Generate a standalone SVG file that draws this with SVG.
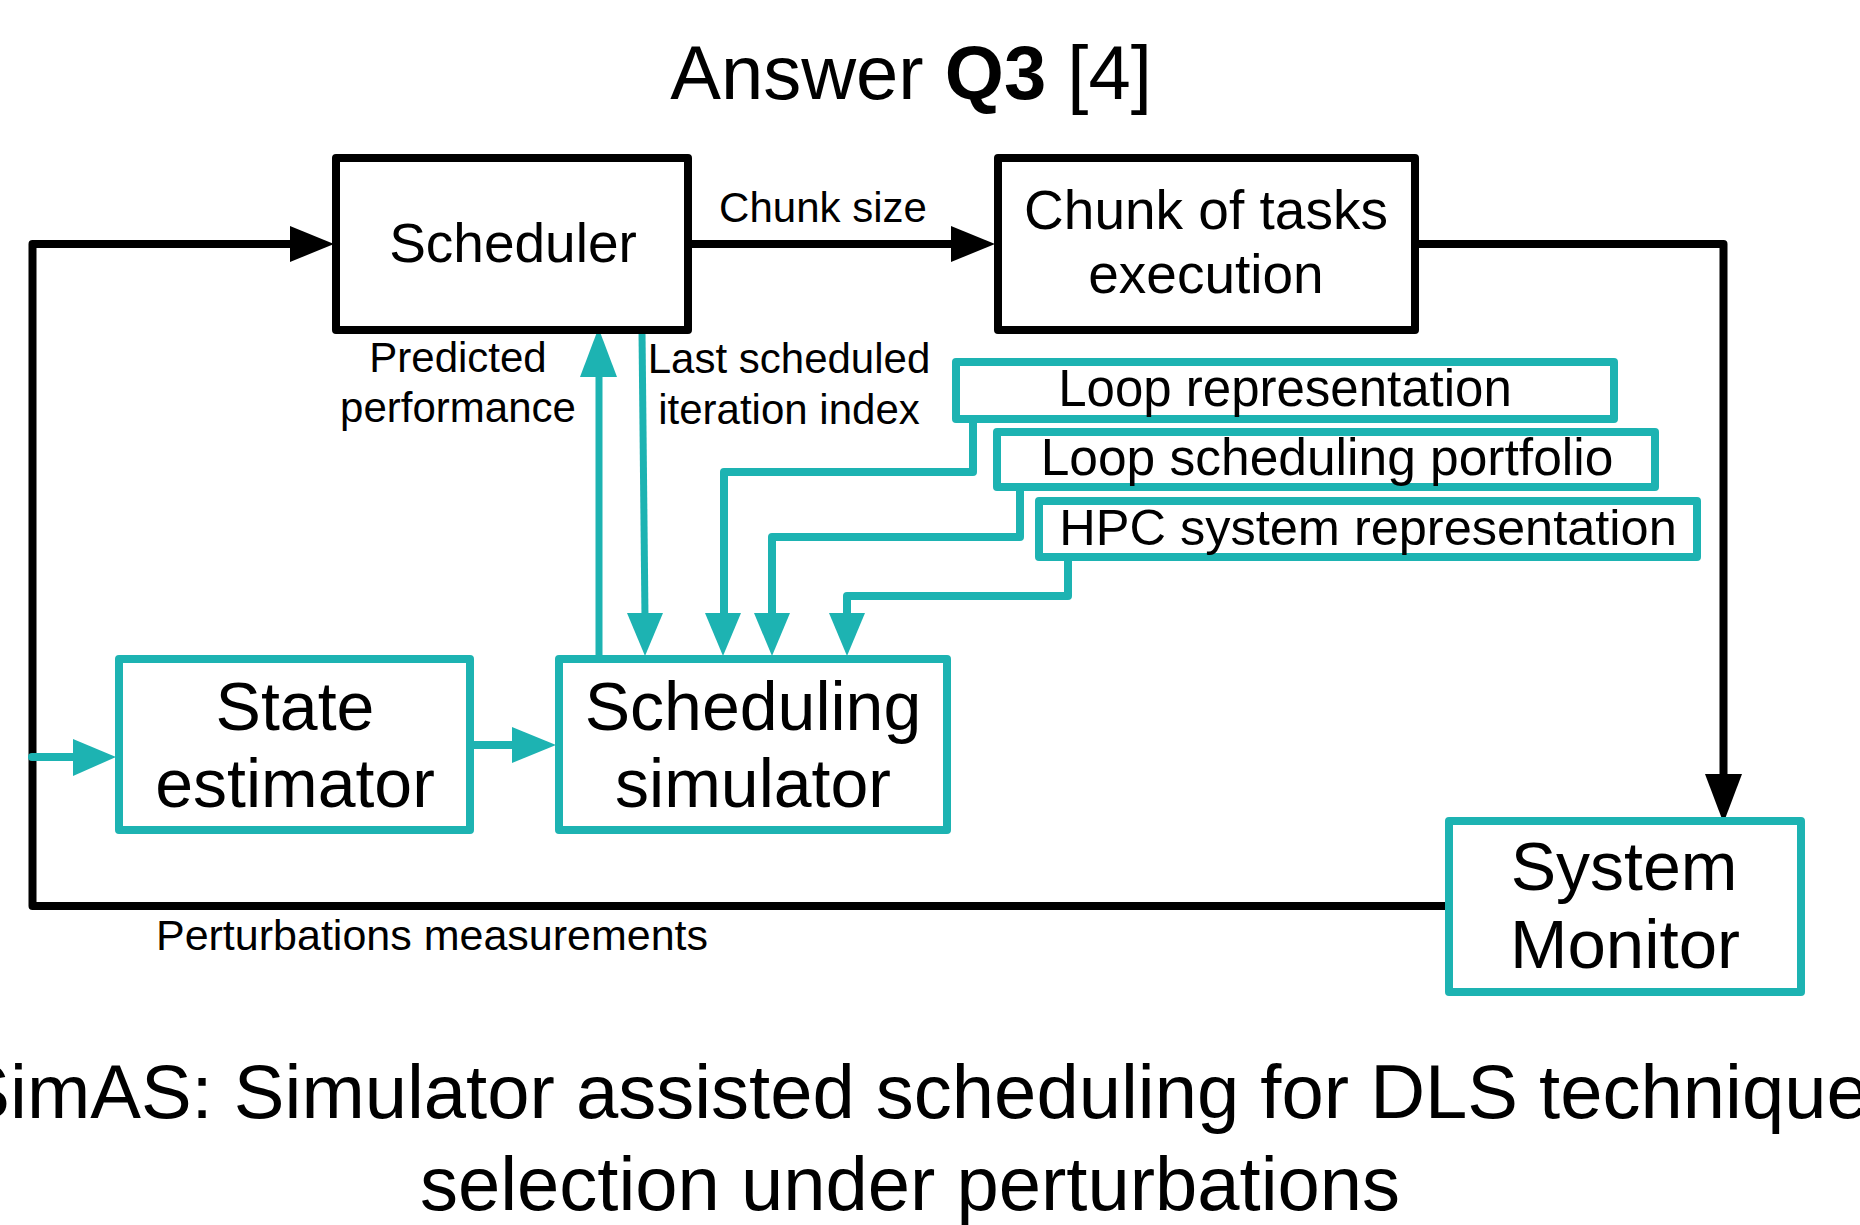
<svg xmlns="http://www.w3.org/2000/svg" width="1860" height="1225" viewBox="0 0 1860 1225">
<style>
text{font-family:"Liberation Sans",Arial,Helvetica,sans-serif;fill:#000;text-anchor:middle}
.bk{fill:none;stroke:#000;stroke-width:8;stroke-linejoin:round}
.tl{fill:none;stroke:#1db3b2;stroke-width:8;stroke-linejoin:round}
.tln{fill:none;stroke:#1db3b2;stroke-width:7;stroke-linejoin:miter;stroke-linecap:butt}
.ah{fill:#000}
.ta{fill:#1db3b2}
.t42{font-size:42px}
.t55{font-size:55px}
.t51{font-size:51px}
.t68{font-size:68px}
.t76{font-size:76px}
</style>
<rect width="1860" height="1225" fill="#fff"/>
<text class="t76" x="911" y="99">Answer <tspan font-weight="bold">Q3</tspan> [4]</text>
<g id="connectors">
  <path class="bk" d="M1447 906 H32.5 V244 H295" stroke-linecap="round"/>
  <polygon class="ah" points="290,226 334,244 290,262"/>
  <path class="bk" d="M688 244 H955"/>
  <polygon class="ah" points="951,226 995,244 951,262"/>
  <path class="bk" d="M1415 244 H1723.5 V778"/>
  <polygon class="ah" points="1705,774 1742,774 1723.5,823"/>
  <path class="tln" d="M599 662 V372"/>
  <polygon class="ta" points="580,377 617,377 598.5,328"/>
  <path class="tln" d="M642 332 L645 618" stroke-linecap="round"/>
  <polygon class="ta" points="627,613 663,613 645,656"/>
  <path class="tl" d="M973 419 V472 H724 V618"/>
  <polygon class="ta" points="705,613 741,613 723,656"/>
  <path class="tl" d="M1020 487 V537 H772 V618"/>
  <polygon class="ta" points="754,613 790,613 772,656"/>
  <path class="tl" d="M1068 557 V596 H847 V618"/>
  <polygon class="ta" points="829,613 865,613 847,656"/>
  <path class="tl" d="M32 757 H78" stroke-linecap="round"/>
  <polygon class="ta" points="73,739 73,776 116,757"/>
  <path class="tl" d="M470 745 H516"/>
  <polygon class="ta" points="512,727 512,763 556,745"/>
</g>
<text class="t42" x="823" y="222">Chunk size</text>
<text class="t42" x="458" y="372">Predicted</text>
<text class="t42" x="458" y="422">performance</text>
<text class="t42" x="789" y="373">Last scheduled</text>
<text class="t42" x="789" y="424">iteration index</text>
<text class="t42" x="432" y="950" style="font-size:43px">Perturbations measurements</text>
<g id="scheduler">
  <rect class="bk" x="336" y="158" width="352" height="172"/>
  <text class="t55" x="513" y="262">Scheduler</text>
</g>
<g id="chunk-execution">
  <rect class="bk" x="998" y="158" width="417" height="172"/>
  <text class="t55" x="1206" y="229">Chunk of tasks</text>
  <text class="t55" x="1206" y="293">execution</text>
</g>
<g id="loop-representation">
  <rect class="tl" x="956" y="362" width="658" height="57"/>
  <text class="t51" x="1285" y="406">Loop representation</text>
</g>
<g id="loop-scheduling-portfolio">
  <rect class="tl" x="997" y="432" width="658" height="55"/>
  <text class="t51" x="1327" y="475" style="font-size:51.5px">Loop scheduling portfolio</text>
</g>
<g id="hpc-system-representation">
  <rect class="tl" x="1039" y="501" width="658" height="56"/>
  <text class="t51" x="1368" y="545" style="font-size:50.5px">HPC system representation</text>
</g>
<g id="state-estimator">
  <rect class="tl" x="119" y="659" width="351" height="171"/>
  <text class="t68" x="295" y="730">State</text>
  <text class="t68" x="295" y="807">estimator</text>
</g>
<g id="scheduling-simulator">
  <rect class="tl" x="559" y="659" width="388" height="171"/>
  <text class="t68" x="753" y="730">Scheduling</text>
  <text class="t68" x="753" y="807">simulator</text>
</g>
<g id="system-monitor">
  <rect class="tl" x="1449" y="821" width="352" height="171"/>
  <text class="t68" x="1624" y="890">System</text>
  <text class="t68" x="1625" y="968" style="font-size:69px">Monitor</text>
</g>
<text class="t76" x="933" y="1118">SimAS: Simulator assisted scheduling for DLS techniques</text>
<text class="t76" x="910" y="1210">selection under perturbations</text>
</svg>
